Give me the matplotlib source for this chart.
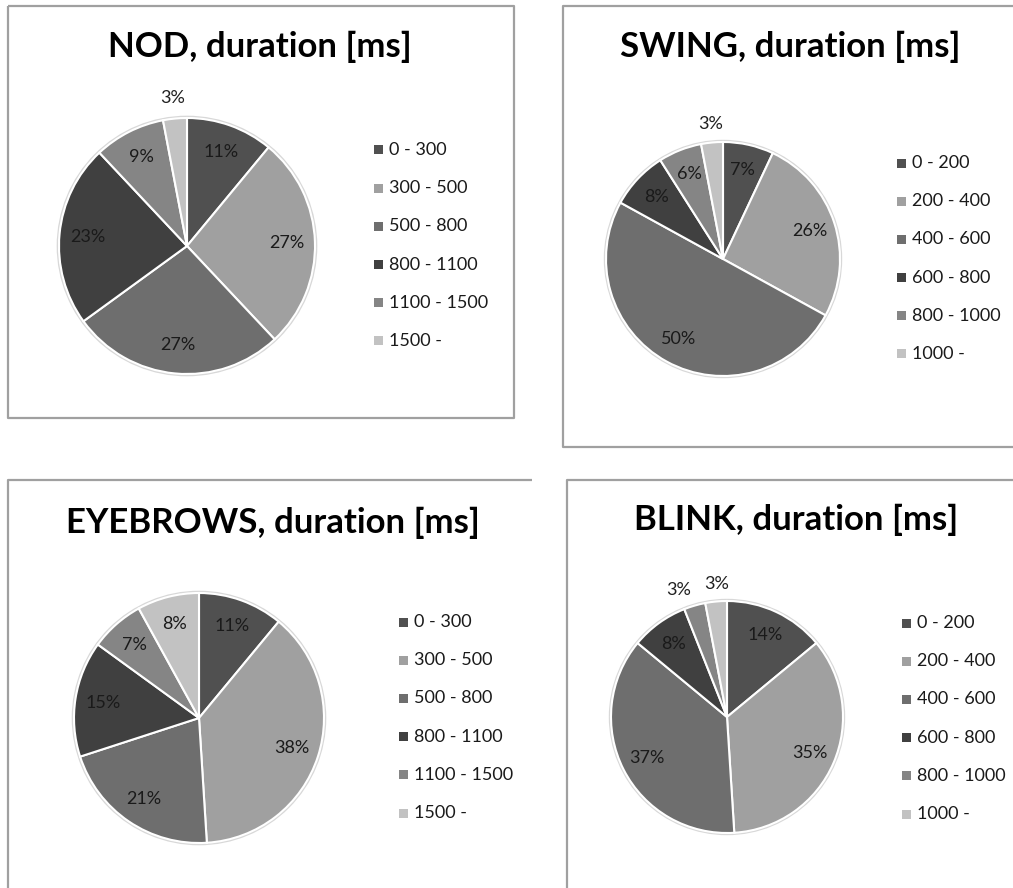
import matplotlib
matplotlib.use("Agg")
import matplotlib.pyplot as plt
from matplotlib.patches import Rectangle, Circle
from matplotlib.lines import Line2D
import numpy as np

W, H = 1013, 888

# ---- data ----
titles = ["NOD, duration [ms]", "SWING, duration [ms]",
          "EYEBROWS, duration [ms]", "BLINK, duration [ms]"]
nod_labels = ["0 - 300", "300 - 500", "500 - 800", "800 - 1100", "1100 - 1500", "1500 -"]
nod_values = [11, 27, 27, 23, 9, 3]
swing_labels = ["0 - 200", "200 - 400", "400 - 600", "600 - 800", "800 - 1000", "1000 -"]
swing_values = [7, 26, 50, 8, 6, 3]
eyebrows_labels = ["0 - 300", "300 - 500", "500 - 800", "800 - 1100", "1100 - 1500", "1500 -"]
eyebrows_values = [11, 38, 21, 15, 7, 8]
blink_labels = ["0 - 200", "200 - 400", "400 - 600", "600 - 800", "800 - 1000", "1000 -"]
blink_values = [14, 35, 37, 8, 3, 3]

colors = ["#505050", "#a0a0a0", "#6e6e6e", "#404040", "#858585", "#c2c2c2"]

plt.rcParams['font.family'] = ['Lato', 'DejaVu Sans']

fig = plt.figure(figsize=(W / 100, H / 100), dpi=100)
fig.patch.set_facecolor("white")

def fx(x):
    return x / W

def fy(y):
    return 1 - y / H

def line(xs, ys):
    fig.add_artist(Line2D([fx(v) for v in xs], [fy(v) for v in ys],
                          transform=fig.transFigure, color="#a0a0a0",
                          linewidth=1.6, solid_capstyle="butt"))

# panel frames (some edges run off the image)
line([8, 514, 514, 8, 8], [6, 6, 418, 418, 6])          # NOD
line([1020, 563, 563, 1020], [6, 6, 447, 447])          # SWING
line([532, 8, 8], [480, 480, 895])                      # EYEBROWS
line([1020, 567, 567], [480, 480, 895])                 # BLINK

panels = [
    dict(title=(260, 47), center=(187, 246), r=128,
         leg=(374, 150), labels=nod_labels, values=nod_values, title_text=titles[0]),
    dict(title=(790, 47), center=(723, 259), r=117,
         leg=(897, 163), labels=swing_labels, values=swing_values, title_text=titles[1]),
    dict(title=(273, 523), center=(199, 718), r=125,
         leg=(399, 622), labels=eyebrows_labels, values=eyebrows_values, title_text=titles[2]),
    dict(title=(796, 520), center=(727, 717), r=116,
         leg=(902, 623), labels=blink_labels, values=blink_values, title_text=titles[3]),
]

for p in panels:
    tx, ty = p["title"]
    fig.text(fx(tx), fy(ty), p["title_text"], ha="center", va="center",
             fontsize=25, fontweight="bold", color="#000000")

    cx, cy = p["center"]
    r = p["r"]
    half = r * 1.35
    ax = fig.add_axes([fx(cx - half), fy(cy + half), 2 * half / W, 2 * half / H])
    lim = half / r
    vals = p["values"]
    wedges, texts, autotexts = ax.pie(
        vals, colors=colors, startangle=90, counterclock=False,
        autopct=lambda v: f"{v:.0f}%", pctdistance=0.78,
        wedgeprops=dict(edgecolor="white", linewidth=1.5),
        textprops=dict(fontsize=13, color="#1a1a1a"))
    ax.add_patch(Circle((0, 0), 1.01, facecolor="none", edgecolor="#d8d8d8",
                        linewidth=1.5, zorder=0))
    outside = []
    for w, t, v in zip(wedges, autotexts, vals):
        if v <= 3:
            ang = np.deg2rad((w.theta1 + w.theta2) / 2)
            t.set_position((1.16 * np.cos(ang), 1.16 * np.sin(ang)))
            t.set_color("#202020")
            outside.append(t)
    # spread neighbouring outside labels apart
    for a, b in zip(outside[:-1], outside[1:]):
        ax_, ay_ = a.get_position()
        bx_, by_ = b.get_position()
        if abs(ax_ - bx_) < 0.3:
            a.set_position((ax_ - 0.09, ay_ - 0.02))
            b.set_position((bx_ + 0.02, by_ - 0.01))
    ax.set_xlim(-lim, lim)
    ax.set_ylim(-lim, lim)
    ax.set_aspect("equal")
    ax.axis("off")

    lx, ly = p["leg"]
    for i, lab in enumerate(p["labels"]):
        yy = ly + i * 38.2
        fig.add_artist(Rectangle((fx(lx), fy(yy + 4.5)), 9 / W, 9 / H,
                                 transform=fig.transFigure, facecolor=colors[i],
                                 edgecolor="none"))
        fig.text(fx(lx + 15), fy(yy), lab, ha="left", va="center",
                 fontsize=13, color="#1a1a1a")

fig.savefig("out.png", dpi=100, facecolor="white")
